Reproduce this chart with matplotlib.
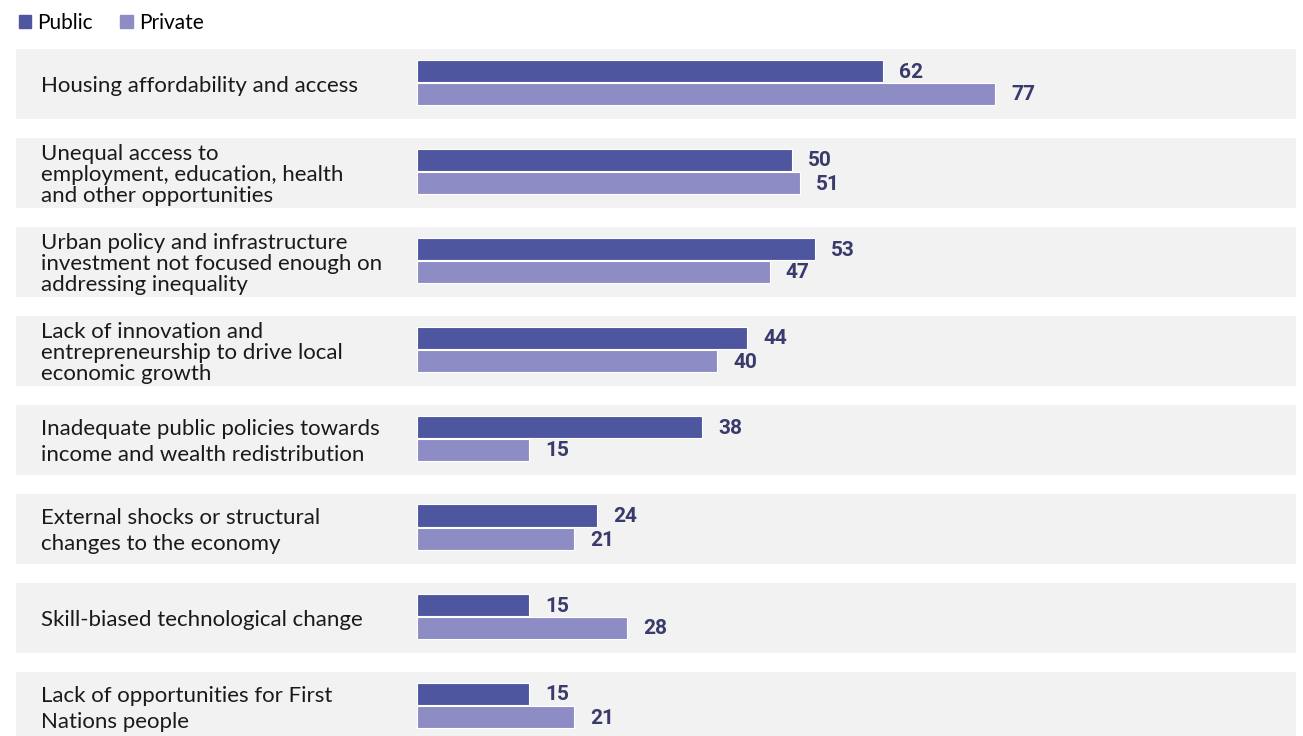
import matplotlib.pyplot as plt
from matplotlib.patches import Patch

categories = [
    "Housing affordability and access",
    "Unequal access to\nemployment, education, health\nand other opportunities",
    "Urban policy and infrastructure\ninvestment not focused enough on\naddressing inequality",
    "Lack of innovation and\nentrepreneurship to drive local\neconomic growth",
    "Inadequate public policies towards\nincome and wealth redistribution",
    "External shocks or structural\nchanges to the economy",
    "Skill-biased technological change",
    "Lack of opportunities for First\nNations people",
]
public = [62, 50, 53, 44, 38, 24, 15, 15]
private = [77, 51, 47, 40, 15, 21, 28, 21]

c_public = "#4e56a0"
c_private = "#8d8cc5"
c_band = "#f2f2f2"
c_value = "#383b6b"

W, H = 1303, 736
fig = plt.figure(figsize=(W / 100, H / 100), dpi=100)
ax = fig.add_axes([0, 0, 1, 1])

# pixel layout -> data scale
px_per_unit = 466 / 62
x0 = 416.5
ax.set_xlim(-x0 / px_per_unit, (W - x0) / px_per_unit)
row_px = 89
top_px = 84
ax.set_ylim((H - top_px) / row_px, -top_px / row_px)
ax.axis("off")

bh = 22 / row_px
for i, (cat, pu, pr) in enumerate(zip(categories, public, private)):
    ax.axhspan(i - 35 / row_px, i + 35 / row_px, xmin=16 / W, xmax=1296 / W,
               color=c_band, lw=0, zorder=0)
    ax.barh(i - 13.5 / row_px, pu, height=bh, color=c_public,
            edgecolor="white", lw=0.8, zorder=2)
    ax.barh(i + 9.5 / row_px, pr, height=bh, color=c_private,
            edgecolor="white", lw=0.8, zorder=2)
    ax.text(pu + 16 / px_per_unit, i - 12 / row_px, str(pu), va="center",
            ha="left", fontsize=15, fontweight="bold", color=c_value,
            family="Roboto")
    ax.text(pr + 16 / px_per_unit, i + 11 / row_px, str(pr), va="center",
            ha="left", fontsize=15, fontweight="bold", color=c_value,
            family="Roboto")
    nlines = cat.count("\n") + 1
    ax.text(41 / W, i + 2 / row_px, cat, transform=ax.get_yaxis_transform(),
            va="center", ha="left", fontsize=16, color="#1a1a1a",
            family="Lato", linespacing=1.08 if nlines == 3 else 1.4)

handles = [Patch(color=c_public, label="Public"),
           Patch(color=c_private, label="Private")]
fig.legend(handles=handles, loc="upper left", bbox_to_anchor=(0.0, 1.008),
           ncol=2, frameon=False, handlelength=0.6, handleheight=0.6,
           handletextpad=0.3, columnspacing=1.3,
           prop={"family": "Lato", "size": 15})

fig.savefig("out.png", dpi=100)
